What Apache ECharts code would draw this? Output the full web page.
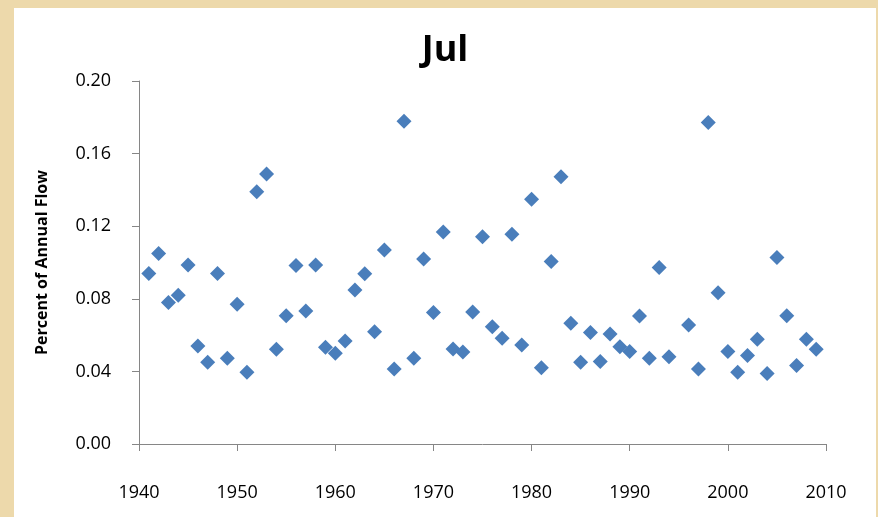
<!DOCTYPE html>
<html>
<head>
<meta charset="utf-8">
<script src="https://cdn.jsdelivr.net/npm/echarts@6/dist/echarts.min.js"></script>
<style>
html,body{margin:0;padding:0;width:878px;height:517px;background:#EDD9AB;overflow:hidden;}
#c{position:absolute;left:14px;top:8px;width:862px;height:509px;background:#fff;}
</style>
</head>
<body>
<div id="c"></div>
<script>
const years = [1941,1942,1943,1944,1945,1946,1947,1948,1949,1950,
  1951,1952,1953,1954,1955,1956,1957,1958,1959,1960,
  1961,1962,1963,1964,1965,1966,1967,1968,1969,1970,
  1971,1972,1973,1974,1975,1976,1977,1978,1979,1980,
  1981,1982,1983,1984,1985,1986,1987,1988,1989,1990,
  1991,1992,1993,1994,1996,1997,1998,1999,2000,
  2001,2002,2003,2004,2005,2006,2007,2008,2009];
const values = [0.094,0.105,0.078,0.082,0.0986,0.054,0.045,0.094,0.0472,0.077,
  0.0395,0.139,0.1488,0.0522,0.0707,0.0984,0.0733,0.0986,0.0533,0.050,
  0.0567,0.0848,0.0938,0.0619,0.1069,0.0413,0.1778,0.0472,0.1019,0.0725,
  0.1168,0.0523,0.0507,0.0727,0.1142,0.0646,0.0582,0.1155,0.0545,0.1348,
  0.042,0.1006,0.1473,0.0665,0.045,0.0615,0.0454,0.0606,0.0536,0.0509,
  0.0705,0.0472,0.0973,0.0481,0.0656,0.0413,0.1772,0.0834,0.0509,
  0.0395,0.0487,0.0577,0.0389,0.1028,0.0707,0.0432,0.0577,0.0522];
const titleText = 'Jul';
const yAxisName = 'Percent of Annual Flow';

const chart = echarts.init(document.getElementById('c'), null, {renderer:'canvas'});
const font = '"Open Sans", sans-serif';
const axisColor = '#868686';
chart.setOption({
  animation:false,
  backgroundColor:'#ffffff',
  title:{text:titleText,left:'center',top:20,textStyle:{fontFamily:font,fontSize:36,fontWeight:'bold',color:'#000'}},
  grid:{left:125,right:50,top:73,bottom:73,containLabel:false},
  xAxis:{type:'value',min:1940,max:2010,interval:10,
    axisLine:{show:true,lineStyle:{color:axisColor,width:1}},
    axisTick:{show:true,length:7,lineStyle:{color:axisColor}},
    splitLine:{show:false},
    axisLabel:{margin:40,fontFamily:font,fontSize:18,color:'#000',formatter:v=>String(v)}},
  yAxis:{type:'value',min:0,max:0.2,interval:0.04,
    name:yAxisName,nameLocation:'middle',nameGap:89,
    nameTextStyle:{fontFamily:font,fontSize:16,fontWeight:'bold',color:'#000'},
    axisLine:{show:true,lineStyle:{color:axisColor,width:1}},
    axisTick:{show:true,length:7,lineStyle:{color:axisColor}},
    splitLine:{show:false},
    axisLabel:{margin:28,fontFamily:font,fontSize:18,color:'#000',formatter:v=>v.toFixed(2)}},
  series:[{type:'scatter',symbol:'diamond',symbolSize:15,
    itemStyle:{color:'#4A7EBB',opacity:1},
    data:years.map((y,i)=>[y,values[i]])}]
});
</script>
</body>
</html>
